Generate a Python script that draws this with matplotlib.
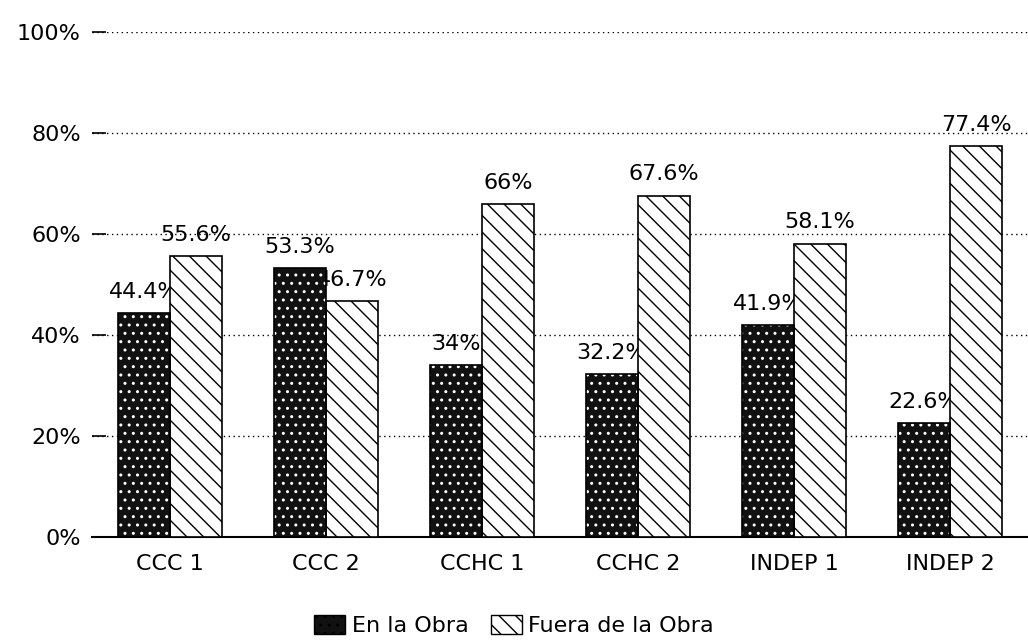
import numpy as np
import matplotlib
matplotlib.use('Agg')
import matplotlib.pyplot as plt
from matplotlib.patches import Patch

# datos
categorias = ['CCC 1', 'CCC 2', 'CCHC 1', 'CCHC 2', 'INDEP 1', 'INDEP 2']
en_obra = [44.4, 53.3, 34, 32.2, 41.9, 22.6]
fuera_obra = [55.6, 46.7, 66, 67.6, 58.1, 77.4]
etiquetas_en = ['44.4%', '53.3%', '34%', '32.2%', '41.9%', '22.6%']
etiquetas_fuera = ['55.6%', '46.7%', '66%', '67.6%', '58.1%', '77.4%']
yticks = [0, 20, 40, 60, 80, 100]
ytick_labels = ['0%', '20%', '40%', '60%', '80%', '100%']

plt.rcParams['font.family'] = ['DejaVu Sans']
plt.rcParams['hatch.linewidth'] = 1.0

fig = plt.figure(figsize=(10.28, 6.42), dpi=100)
ax = fig.add_axes([0.0895, 0.1636, 0.9105, 0.7866])

x = np.arange(len(categorias))
w = 0.335

# barras oscuras (textura moteada) + contorno
ax.bar(x - w / 2, en_obra, w, color='#111111', edgecolor='white', hatch='..',
       linewidth=0, zorder=3)
ax.bar(x - w / 2, en_obra, w, fill=False, edgecolor='black', linewidth=1.2, zorder=4)
# barras rayadas
ax.bar(x + w / 2, fuera_obra, w, color='white', edgecolor='black', hatch='\\\\',
       linewidth=1.2, zorder=3)

for xi, v, t in zip(x - w / 2, en_obra, etiquetas_en):
    ax.text(xi, v + 2.2, t, ha='center', va='bottom', fontsize=16, zorder=2)
for xi, v, t in zip(x + w / 2, fuera_obra, etiquetas_fuera):
    ax.text(xi, v + 2.2, t, ha='center', va='bottom', fontsize=16, zorder=2)

ax.set_xlim(-0.5, 5.5)
ax.set_ylim(0, 100)
ax.set_yticks(yticks)
ax.set_yticklabels(ytick_labels, fontsize=16)
ax.set_xticks(x)
ax.set_xticklabels(categorias, fontsize=16)
ax.tick_params(axis='x', length=0, pad=12)
ax.tick_params(axis='y', length=10, width=1.2, direction='in', pad=8)
ax.yaxis.grid(True, linestyle=(0, (1, 2.5)), color='black', linewidth=1.0, zorder=1)
ax.set_axisbelow(True)

for s in ['left', 'right', 'top']:
    ax.spines[s].set_visible(False)
ax.spines['bottom'].set_linewidth(1.5)

handles = [Patch(facecolor='#111111', edgecolor='black', hatch='..', label='En la Obra'),
           Patch(facecolor='white', edgecolor='black', hatch='\\\\', label='Fuera de la Obra')]
fig.legend(handles=handles, loc='lower center', bbox_to_anchor=(0.5, -0.022), ncol=2,
           frameon=False, fontsize=16, handlelength=1.4, handleheight=0.9,
           columnspacing=1.0, handletextpad=0.3)

fig.savefig('out.png', dpi=100, facecolor='white')
